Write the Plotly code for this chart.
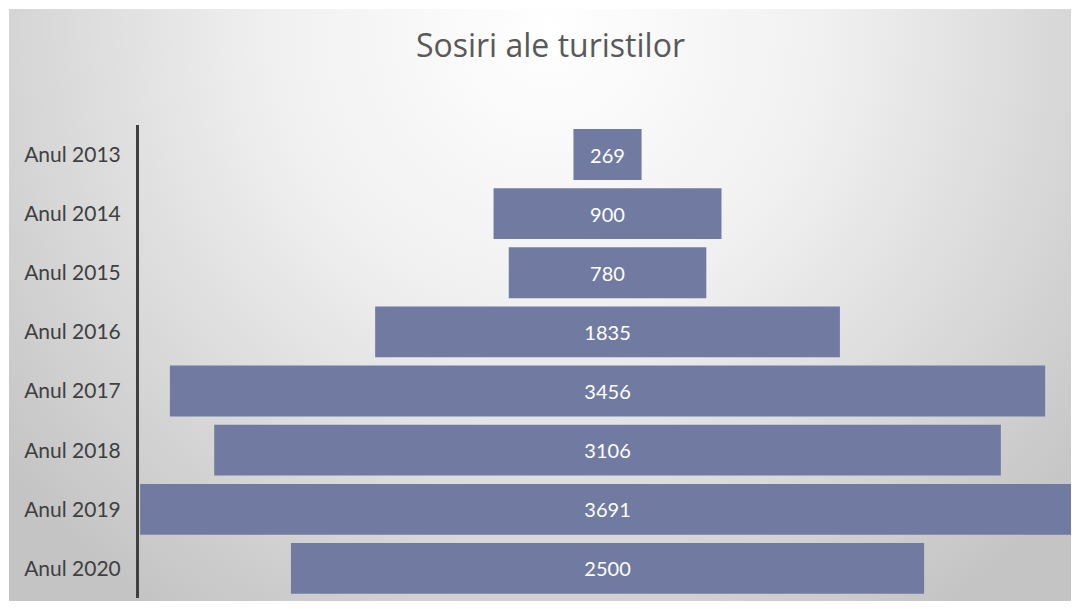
import plotly.graph_objects as go

years = ["Anul 2013", "Anul 2014", "Anul 2015", "Anul 2016",
         "Anul 2017", "Anul 2018", "Anul 2019", "Anul 2020"]
arrivals = [269, 900, 780, 1835, 3456, 3106, 3691, 2500]
title_text = "Sosiri ale turistilor"

bar_color = "#717BA1"

fig = go.Figure()

# radial gradient background (helper axes in page pixel space)
cx, cy, half = 550, 30, 700
fig.add_trace(go.Scatter(
    x=[cx - half, cx + half, cx + half, cx - half, cx - half],
    y=[cy - half, cy - half, cy + half, cy + half, cy - half],
    mode="lines", fill="toself", line=dict(width=0),
    fillgradient=dict(type="radial",
                      colorscale=[[0, "#ffffff"], [0.4, "#f0f0f0"],
                                  [1, "#c4c4c4"]]),
    hoverinfo="skip", showlegend=False,
    xaxis="x", yaxis="y",
))

fig.add_trace(go.Funnel(
    y=years, x=arrivals,
    xaxis="x2", yaxis="y2",
    marker=dict(color=bar_color, line=dict(width=0)),
    connector=dict(visible=False),
    textinfo="value", textposition="inside",
    insidetextanchor="middle",
    textfont=dict(color="white", size=20, family="Lato"),
    showlegend=False,
))

fig.update_layout(
    width=1063, height=593,
    margin=dict(l=1, r=0, t=1, b=0),
    paper_bgcolor="white",
    plot_bgcolor="rgba(0,0,0,0)",
    funnelgap=0.14,
    title=dict(text=title_text, x=0.5103, xref="container", xanchor="center",
               y=0.9359, yref="container", yanchor="middle",
               font=dict(family="Open Sans", size=32, color="#595959")),
    xaxis=dict(range=[9, 1071], visible=False, domain=[0, 1], fixedrange=True),
    yaxis=dict(range=[601, 9], visible=False, domain=[0, 1], fixedrange=True),
    xaxis2=dict(range=[-1850, 1830], domain=[0.1224, 1], anchor="y2",
                visible=False),
    yaxis2=dict(range=[7.5, -0.5], domain=[0.00507, 0.8041], anchor="x2",
                type="category", showline=True, linecolor="#404040",
                linewidth=3, showgrid=False, zeroline=False, ticks="",
                ticklabelstandoff=11,
                tickfont=dict(family="Lato", size=21, color="#404040")),
)

fig.write_html("out.html")
